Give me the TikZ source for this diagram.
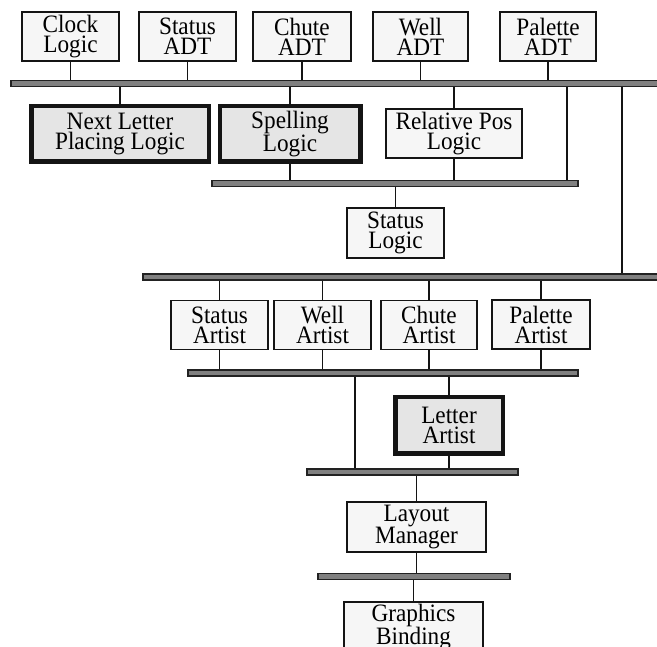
\documentclass[tikz,border=0pt]{standalone}
\usepackage{fontspec}
\setmainfont{Liberation Serif}
\newfontfamily\modulefont[FakeStretch=0.93]{Liberation Serif}
\usepackage{xcolor}
\definecolor{modulefill}{RGB}{246,246,246}
\definecolor{keyfill}{RGB}{229,229,229}
\definecolor{busfill}{RGB}{128,128,128}
\definecolor{busline}{RGB}{34,34,34}
\definecolor{wire}{RGB}{20,20,20}

\begin{document}
\begin{tikzpicture}[x=1pt, y=-1pt,
    module/.style={draw=wire, fill=modulefill, line width=1.5pt, minimum width=97pt, minimum height=49pt, inner sep=0pt, align=center, font=\modulefont\fontsize{25}{20}\selectfont},
    keymodule/.style={module, fill=keyfill, line width=4.5pt},
    bus/.style={draw=busline, fill=busfill, line width=1.6pt, minimum height=6pt, inner sep=0pt},
    link/.style={draw=wire, line width=1.8pt}
]
\useasboundingbox (0,0) rectangle (657,647);
\clip (0,0) rectangle (657,647);

\node[module] (clock) at (70.5,36.5) {Clock\\Logic};
\node[module] (statusadt) at (187.5,36.5) {Status\\ADT};
\node[module, minimum width=98pt] (chuteadt) at (302,36.5) {Chute\\ADT};
\node[module, minimum width=95pt] (welladt) at (420.5,36.5) {Well\\ADT};
\node[module, minimum width=96pt] (paletteadt) at (548,36.5) {Palette\\ADT};

\node[bus, minimum width=670pt] (bus1) at (346,83.5) {};

\node[keymodule, minimum width=177.5pt, minimum height=55.5pt] (nextletter) at (120,134) {Next Letter\\Placing Logic};
\node[keymodule, minimum width=140.5pt, minimum height=55.5pt] (spelling) at (290,134) {Spelling\\Logic};
\node[module, minimum width=136pt] (relpos) at (454,133.5) {Relative Pos\\Logic};

\node[bus, minimum width=366pt] (bus2) at (395,183.5) {};

\node[module, minimum height=50pt] (statuslogic) at (395.5,233) {Status\\Logic};

\node[bus, minimum width=537pt] (bus3) at (411.5,277) {};

\node[module] (statusartist) at (219.5,325) {Status\\Artist};
\node[module] (wellartist) at (322.5,325) {Well\\Artist};
\node[module, minimum width=96pt] (chuteartist) at (429,325) {Chute\\Artist};
\node[module, minimum width=98pt] (paletteartist) at (541,324.5) {Palette\\Artist};

\node[bus, minimum width=390pt] (bus4) at (383,373) {};

\node[keymodule, minimum width=107.5pt, minimum height=56.5pt] (letterartist) at (449,425.5) {Letter\\Artist};

\node[bus, minimum width=211pt] (bus5) at (412.5,472) {};

\node[module, minimum width=139pt, minimum height=50pt] (layout) at (416.5,527) {Layout\\Manager};

\node[bus, minimum width=192pt] (bus6) at (414,576.5) {};

\node[module, minimum width=139pt, minimum height=50pt] (graphics) at (413.5,627) {Graphics\\Binding};

\foreach \m in {clock,statusadt,chuteadt,welladt,paletteadt}
    \draw[link] (\m.south) -- (\m.south |- bus1.north);
\foreach \m in {nextletter,spelling,relpos}
    \draw[link] (\m.north) -- (\m.north |- bus1.south);
\foreach \m in {spelling,relpos}
    \draw[link] (\m.south) -- (\m.south |- bus2.north);
\draw[link] (bus1.south -| 567,0) -- (bus2.north -| 567,0);
\draw[link] (bus1.south -| 622,0) -- (bus3.north -| 622,0);
\draw[link] (statuslogic.north) -- (statuslogic.north |- bus2.south);

\foreach \m in {statusartist,wellartist,chuteartist,paletteartist}{
    \draw[link] (\m.north) -- (\m.north |- bus3.south);
    \draw[link] (\m.south) -- (\m.south |- bus4.north);
}
\draw[link] (letterartist.north) -- (letterartist.north |- bus4.south);
\draw[link] (letterartist.south) -- (letterartist.south |- bus5.north);
\draw[link] (bus4.south -| 355,0) -- (bus5.north -| 355,0);

\draw[link] (layout.north) -- (layout.north |- bus5.south);
\draw[link] (layout.south) -- (layout.south |- bus6.north);
\draw[link] (graphics.north) -- (graphics.north |- bus6.south);
\end{tikzpicture}
\end{document}
